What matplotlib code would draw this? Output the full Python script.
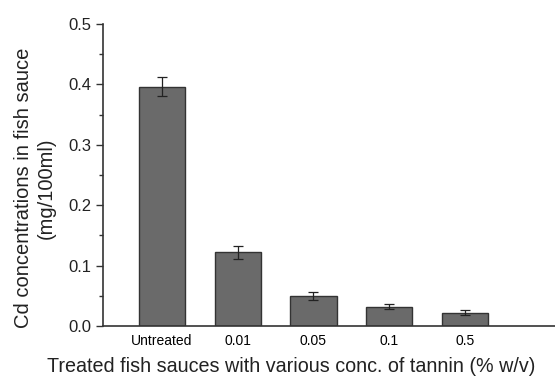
import matplotlib
matplotlib.use("Agg")
import matplotlib.pyplot as plt
from matplotlib.ticker import MultipleLocator

plt.rcParams['font.family'] = ['Liberation Sans', 'DejaVu Sans']

categories = ["Untreated", "0.01", "0.05", "0.1", "0.5"]
cd_conc = [0.396, 0.122, 0.050, 0.032, 0.022]
cd_err = [0.016, 0.011, 0.007, 0.004, 0.004]

fig = plt.figure(figsize=(5.55, 3.81), dpi=100)
ax = fig.add_axes([0.1856, 0.1444, 0.8144, 0.7927])

x = list(range(1, len(categories) + 1))
ax.bar(x, cd_conc, width=0.61, color="#6a6a6a", edgecolor="#333333", linewidth=1.0,
       yerr=cd_err, capsize=3.5, error_kw=dict(ecolor="#222222", elinewidth=0.9, capthick=0.9))

ax.set_xlim(0.22, 6.19)
ax.set_ylim(0, 0.5)
ax.set_xticks(x)
ax.set_xticklabels(categories, fontsize=10)
ax.tick_params(axis="x", length=0, pad=6)
ax.yaxis.set_major_locator(MultipleLocator(0.1))
ax.yaxis.set_minor_locator(MultipleLocator(0.05))
ax.yaxis.set_major_formatter(matplotlib.ticker.FormatStrFormatter("%.1f"))
ax.tick_params(axis="y", which="major", direction="out", length=5, width=1, labelsize=12, colors="#333333", labelcolor="#222222")
ax.tick_params(axis="y", which="minor", direction="out", length=3, width=1, colors="#333333")

for s in ["top", "right"]:
    ax.spines[s].set_visible(False)
for s in ["left", "bottom"]:
    ax.spines[s].set_linewidth(1.2)
    ax.spines[s].set_color("#333333")

ax.set_ylabel("Cd concentrations in fish sauce\n(mg/100ml)", fontsize=14.5, color="#222222",
              linespacing=1.25)
ax.yaxis.set_label_coords(-0.104, 0.457)
fig.text(0.524, 0.012, "Treated fish sauces with various conc. of tannin (% w/v)",
         ha="center", va="bottom", fontsize=14.2, color="#222222")

fig.savefig("out.png", dpi=100)
